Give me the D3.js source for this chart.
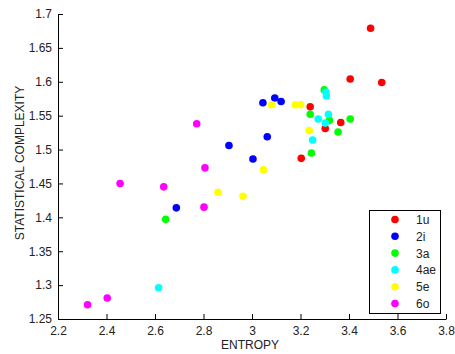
<!DOCTYPE html>
<html>
<head>
<meta charset="utf-8">
<script src="https://cdn.jsdelivr.net/npm/d3@7"></script>
<style>
  html, body { margin: 0; padding: 0; background: #fff; }
  svg { display: block; }
  text { font-family: "Liberation Sans", Arial, sans-serif; }
</style>
</head>
<body>
<svg id="chart" width="455" height="354"></svg>
<script>
// ---- data ----
const seriesNames = ["1u", "2i", "3a", "4ae", "5e", "6o"];
const seriesColors = ["#ff0000", "#0000ff", "#00ff00", "#00ffff", "#ffff00", "#ff00ff"];

const entropy1u = [3.489, 3.405, 3.535, 3.240, 3.366, 3.302, 3.203];
const complexity1u = [1.679, 1.604, 1.599, 1.563, 1.540, 1.531, 1.487];

const entropy2i = [2.688, 2.905, 3.004, 3.045, 3.063, 3.094, 3.120];
const complexity2i = [1.414, 1.506, 1.486, 1.569, 1.519, 1.576, 1.571];

const entropy3a = [2.644, 3.245, 3.240, 3.298, 3.319, 3.355, 3.405];
const complexity3a = [1.397, 1.495, 1.552, 1.588, 1.543, 1.526, 1.545];

const entropy4ae = [2.615, 3.250, 3.273, 3.302, 3.315, 3.307, 3.305];
const complexity4ae = [1.296, 1.514, 1.545, 1.539, 1.552, 1.579, 1.585];

const entropy5e = [2.860, 2.963, 3.047, 3.081, 3.179, 3.201, 3.236];
const complexity5e = [1.437, 1.431, 1.470, 1.566, 1.566, 1.566, 1.528];

const entropy6o = [2.322, 2.403, 2.456, 2.636, 2.772, 2.802, 2.806];
const complexity6o = [1.271, 1.281, 1.450, 1.445, 1.538, 1.415, 1.473];

const xTicks = [2.2, 2.4, 2.6, 2.8, 3, 3.2, 3.4, 3.6, 3.8];
const yTicks = [1.25, 1.3, 1.35, 1.4, 1.45, 1.5, 1.55, 1.6, 1.65, 1.7];

const xLabel = "ENTROPY";
const yLabel = "STATISTICAL COMPLEXITY";

const seriesX = [entropy1u, entropy2i, entropy3a, entropy4ae, entropy5e, entropy6o];
const seriesY = [complexity1u, complexity2i, complexity3a, complexity4ae, complexity5e, complexity6o];

// ---- layout ----
const svg = d3.select("#chart");
const plotLeft = 58, plotRight = 446, plotTop = 14, plotBottom = 319;
const fontSize = "12px";

const x = d3.scaleLinear().domain([2.2, 3.8]).range([plotLeft, plotRight]);
const y = d3.scaleLinear().domain([1.25, 1.7]).range([plotBottom, plotTop]);

// points
const g = svg.append("g");
seriesNames.forEach((name, i) => {
  const pts = seriesX[i].map((v, j) => ({x: v, y: seriesY[i][j]}));
  g.selectAll(null).data(pts).enter().append("circle")
    .attr("cx", d => x(d.x))
    .attr("cy", d => y(d.y))
    .attr("r", 3.8)
    .attr("fill", seriesColors[i]);
});

// axes
const xAxis = d3.axisBottom(x).tickValues(xTicks).tickSizeInner(-5).tickSizeOuter(0)
  .tickPadding(7).tickFormat(d3.format("~g"));
const yAxis = d3.axisLeft(y).tickValues(yTicks).tickSizeInner(-5).tickSizeOuter(0)
  .tickPadding(6).tickFormat(d3.format("~g"));

const gx = svg.append("g").attr("transform", `translate(0,${plotBottom})`).call(xAxis);
const gy = svg.append("g").attr("transform", `translate(${plotLeft},0)`).call(yAxis);

[gx, gy].forEach(ax => {
  ax.select(".domain").attr("stroke", "#000").attr("stroke-width", 1);
  ax.selectAll(".tick line").attr("stroke", "#000");
  ax.selectAll(".tick text").attr("fill", "#222").style("font-size", fontSize)
    .style("font-family", "'Liberation Sans', Arial, sans-serif");
});

// axis labels
svg.append("text")
  .attr("x", 250).attr("y", 349)
  .attr("text-anchor", "middle")
  .attr("fill", "#222")
  .style("font-size", fontSize)
  .text(xLabel);

svg.append("text")
  .attr("transform", `translate(24,163) rotate(-90)`)
  .attr("text-anchor", "middle")
  .attr("fill", "#222")
  .style("font-size", fontSize)
  .text(yLabel);

// legend
const lg = svg.append("g");
lg.append("rect")
  .attr("x", 369.5).attr("y", 210.5)
  .attr("width", 71).attr("height", 103)
  .attr("fill", "#fff").attr("stroke", "#000").attr("stroke-width", 1);

seriesNames.forEach((name, i) => {
  const cy = 219.5 + i * 16.8;
  lg.append("circle").attr("cx", 395).attr("cy", cy).attr("r", 3.8).attr("fill", seriesColors[i]);
  lg.append("text").attr("x", 416).attr("y", cy + 4.5)
    .attr("fill", "#222").style("font-size", fontSize).text(name);
});
</script>
</body>
</html>
